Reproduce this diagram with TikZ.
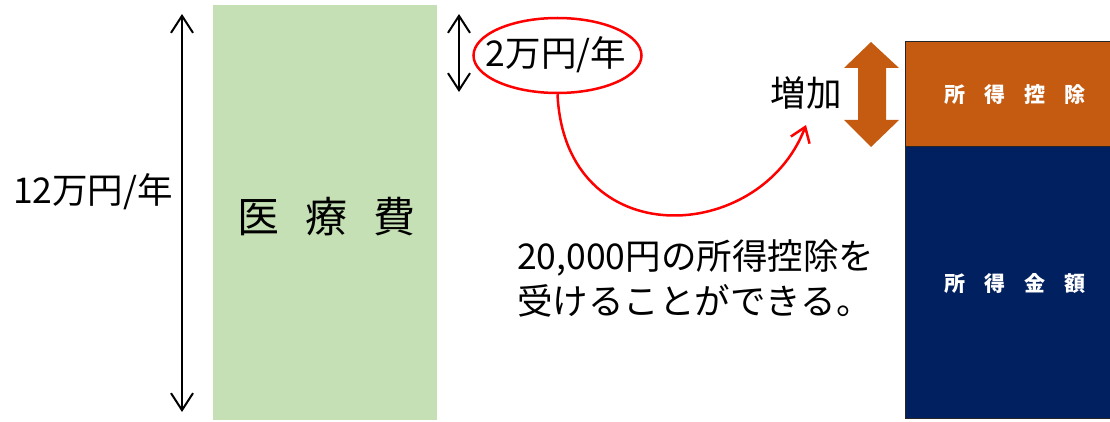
\documentclass[tikz,border=0pt]{standalone}
\usepackage{fontspec}
\setmainfont{Noto Sans CJK JP}
\usetikzlibrary{arrows.meta,shapes.geometric}
\definecolor{medgreen}{HTML}{C5E0B4}
\definecolor{dedorange}{HTML}{C55A11}
\definecolor{incnavy}{HTML}{002060}
\definecolor{redline}{HTML}{FF0000}
\tikzset{
  dimarrow/.style={line width=2pt,{Straight Barb[length=17pt,width=22pt,line width=2pt]}-{Straight Barb[length=17pt,width=22pt,line width=2pt]}},
  bigtext/.style={font=\fontsize{35.5}{38}\selectfont, inner sep=0pt},
  boxlabel/.style={font=\fontsize{21}{24}\selectfont\bfseries, text=white},
  stackbox/.style={draw=black!85, line width=0.8pt, minimum width=205pt, inner sep=0pt},
}
\begin{document}
\begin{tikzpicture}[x=1pt,y=-1pt]
\useasboundingbox (0,0) rectangle (1110,422);
% green box
\node[fill=medgreen, minimum width=224pt, minimum height=415pt, inner sep=0pt] (med) at (325,212.5) {};
\node[font=\fontsize{42}{44}\selectfont, inner sep=0pt] (medlbl) at (326,217) {医\hspace{26pt}療\hspace{26pt}費};
% left dimension arrow
\coordinate (ltop) at (182,14);
\coordinate (lbot) at (182,412);
\draw[dimarrow] (ltop) -- (lbot);
\node[bigtext] (total) at (93,192) {12万円/年};
% small dimension arrow
\coordinate (stop) at (459,14);
\coordinate (sbot) at (459,92);
\draw[dimarrow] (stop) -- (sbot);
% red ellipse
\node[ellipse, draw=redline, line width=2.5pt, minimum width=168pt, minimum height=75pt, inner sep=0pt] (ell) at (557.5,55.5) {};
\node[bigtext] (excess) at (556,55) {2万円/年};
% red curve
\coordinate (tip) at (806,125);
\draw[redline, line width=2.5pt, -{Straight Barb[length=14pt,width=20pt,line width=2.5pt]}] (ell.south) .. controls (565,255) and (760,245) .. (tip);
\node[bigtext] (inc) at (806,93) {増加};
% orange double block arrow
\draw[fill=dedorange, draw=none] (871,42) -- (899,68) -- (886,68) -- (886,120) -- (899,120) -- (871,147) -- (844,120) -- (858,120) -- (858,68) -- (844,68) -- cycle;
% right stacked boxes
\node[stackbox, fill=dedorange, minimum height=105pt, anchor=north west] (ded) at (905,41) {};
\node[stackbox, fill=incnavy, minimum height=272pt, anchor=north west] (income) at (905,146) {};
\node[boxlabel] (dedlbl) at (1015,95) {所\hspace{19pt}得\hspace{19pt}控\hspace{19pt}除};
\node[boxlabel] (inclbl) at (1015,283) {所\hspace{19pt}得\hspace{19pt}金\hspace{19pt}額};
% explanation
\node[bigtext, align=left, anchor=west, font=\fontsize{35.5}{45}\selectfont] (expl) at (517,278) {20,000円の所得控除を\\受けることができる。};
\end{tikzpicture}
\end{document}
